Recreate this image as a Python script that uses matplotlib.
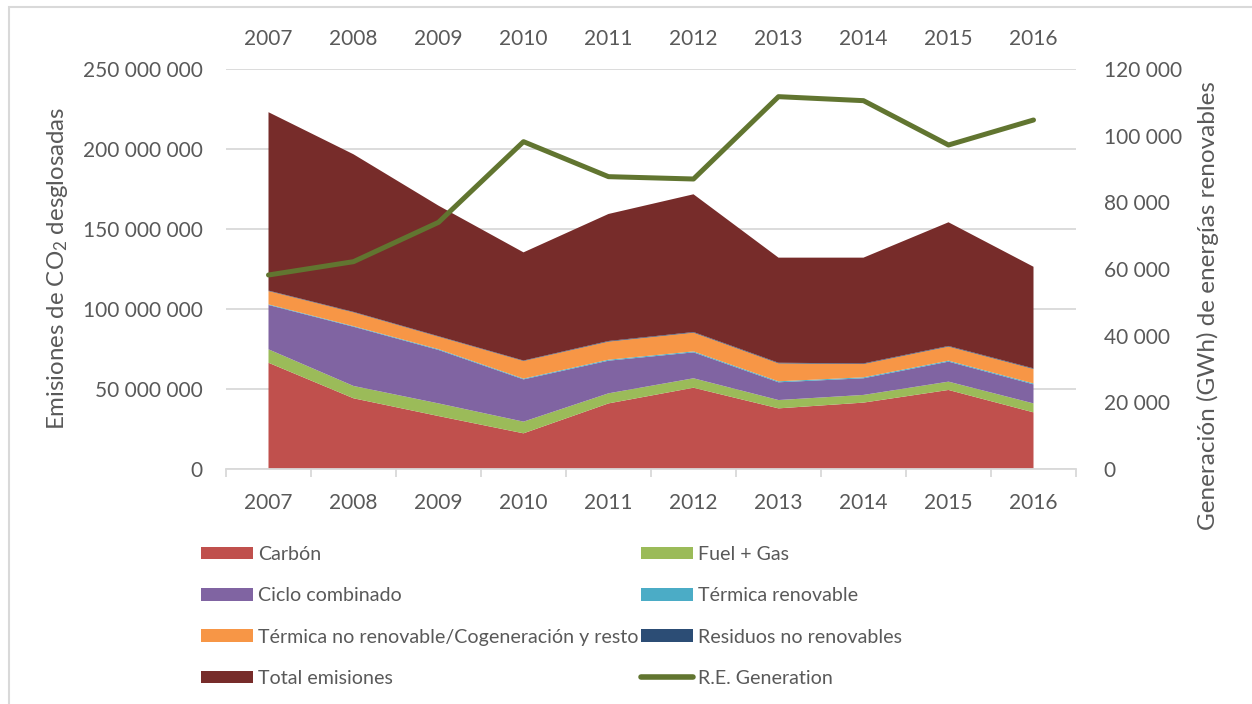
import matplotlib
matplotlib.use("Agg")
import matplotlib.pyplot as plt
from matplotlib.patches import Patch, Rectangle
from matplotlib.lines import Line2D
from matplotlib.ticker import FuncFormatter, FixedLocator

plt.rcParams['font.family'] = ['Lato', 'DejaVu Sans']
plt.rcParams['mathtext.fontset'] = 'custom'
plt.rcParams['mathtext.rm'] = 'Lato'
plt.rcParams['mathtext.it'] = 'Lato:italic'

# emisiones de CO2 por tecnología (Mt) y generación renovable (GWh)
years = ['2007', '2008', '2009', '2010', '2011', '2012', '2013', '2014', '2015', '2016']
carbon = [66.4, 44.2, 33.1, 22.3, 41.0, 50.8, 37.9, 41.5, 49.4, 35.4]
fuel_gas = [8.4, 7.7, 7.9, 7.3, 6.3, 5.9, 5.2, 4.8, 5.2, 5.6]
ciclo = [27.7, 37.0, 33.4, 26.4, 20.4, 16.2, 11.1, 10.4, 12.5, 11.9]
term_renov = [0.4, 0.4, 0.5, 0.5, 0.6, 0.6, 0.6, 0.6, 0.6, 0.6]
term_no_renov = [8.3, 8.6, 7.8, 11.0, 11.3, 11.7, 11.2, 8.3, 8.8, 9.0]
residuos = [0.3, 0.3, 0.3, 0.3, 0.4, 0.4, 0.4, 0.4, 0.4, 0.4]
total = [111.5, 98.5, 81.6, 67.6, 79.4, 86.1, 65.7, 66.1, 77.3, 63.5]
re_gen = [58200, 62200, 74000, 98200, 87700, 87000, 111700, 110500, 97200, 104700]

series = [carbon, fuel_gas, ciclo, term_renov, term_no_renov, residuos, total]
labels = ['Carbón', 'Fuel + Gas', 'Ciclo combinado', 'Térmica renovable',
          'Térmica no renovable/Cogeneración y resto', 'Residuos no renovables',
          'Total emisiones']
colors = ['#C0504D', '#9BBB59', '#8064A2', '#4BACC6', '#F79646', '#2C4D75', '#772C2A']
line_color = '#617530'
txt = '#595959'
grid = '#D9D9D9'
fs = 15

W, H = 1252, 704
fig = plt.figure(figsize=(W / 100, H / 100), dpi=100)
ax = fig.add_axes([226 / W, 1 - 469 / H, 850 / W, 400 / H])

x = list(range(len(years)))
ax.stackplot(x, [[v * 1e6 for v in s] for s in series], colors=colors, linewidth=0)
ax.set_xlim(-0.5, len(years) - 0.5)
ax.set_ylim(0, 250e6)
ax.set_yticks([0, 50e6, 100e6, 150e6, 200e6, 250e6])
ax.yaxis.set_major_formatter(FuncFormatter(lambda v, p: f"{v:,.0f}".replace(",", " ")))
ax.yaxis.grid(True, color=grid, lw=1.3)
ax.set_axisbelow(True)
for s in ['left', 'right', 'top']:
    ax.spines[s].set_visible(False)
ax.spines['bottom'].set_color(grid)
ax.spines['bottom'].set_linewidth(1.3)

ax.set_xticks(x)
ax.set_xticklabels(years)
ax.xaxis.set_minor_locator(FixedLocator([i - 0.5 for i in range(len(years) + 1)]))
ax.tick_params(axis='x', which='major', length=0, labelsize=fs, colors=txt, pad=17)
ax.tick_params(axis='x', which='minor', length=6, width=1.3, color=grid, direction='out')
ax.tick_params(axis='y', length=0, labelsize=fs, colors=txt, pad=17)

# años también arriba, eje de la serie de generación
top = ax.secondary_xaxis('top')
top.set_xticks(x)
top.set_xticklabels(years)
top.tick_params(length=0, labelsize=fs, colors=txt, pad=14.5)
top.spines['top'].set_visible(False)

ax2 = ax.twinx()
ax2.plot(x, re_gen, color=line_color, lw=3.6, solid_capstyle='round', solid_joinstyle='round')
ax2.set_ylim(0, 120000)
ax2.set_yticks([0, 20000, 40000, 60000, 80000, 100000, 120000])
ax2.yaxis.set_major_formatter(FuncFormatter(lambda v, p: f"{v:,.0f}".replace(",", " ")))
ax2.tick_params(axis='y', length=0, labelsize=fs, colors=txt, pad=20)
for s in ax2.spines.values():
    s.set_visible(False)

fig.text(58 / W, 1 - 268 / H, 'Emisiones de CO$_2$ desglosadas', rotation=90,
         ha='center', va='center', fontsize=17.3, color=txt)
fig.text(1208 / W, 1 - 306 / H, 'Generación (GWh) de energías renovables', rotation=90,
         ha='center', va='center', fontsize=17.5, color=txt)

# leyenda en dos columnas
lfs = 14.1
h = [Patch(facecolor=c, edgecolor='none') for c in colors]
h.append(Line2D([0], [0], color=line_color, lw=4, solid_capstyle='round'))
all_labels = labels + ['R.E. Generation']
col1 = [0, 2, 4, 6]
col2 = [1, 3, 5, 7]
common = dict(loc='upper left', frameon=False, fontsize=lfs, labelcolor=txt,
              handlelength=52 / 19.6, handleheight=12 / 19.6, handletextpad=0.27,
              labelspacing=1.24, borderpad=0, borderaxespad=0)
fig.legend([h[i] for i in col1], [all_labels[i] for i in col1],
           bbox_to_anchor=(201 / W, 1 - 546 / H), **common)
fig.legend([h[i] for i in col2], [all_labels[i] for i in col2],
           bbox_to_anchor=(641 / W, 1 - 546 / H), **common)

fig.add_artist(Rectangle((9 / W, -0.1), 2, 1 - 7 / H + 0.1, transform=fig.transFigure,
                         fill=False, edgecolor=grid, lw=1.5))

fig.savefig('out.png', dpi=100)
